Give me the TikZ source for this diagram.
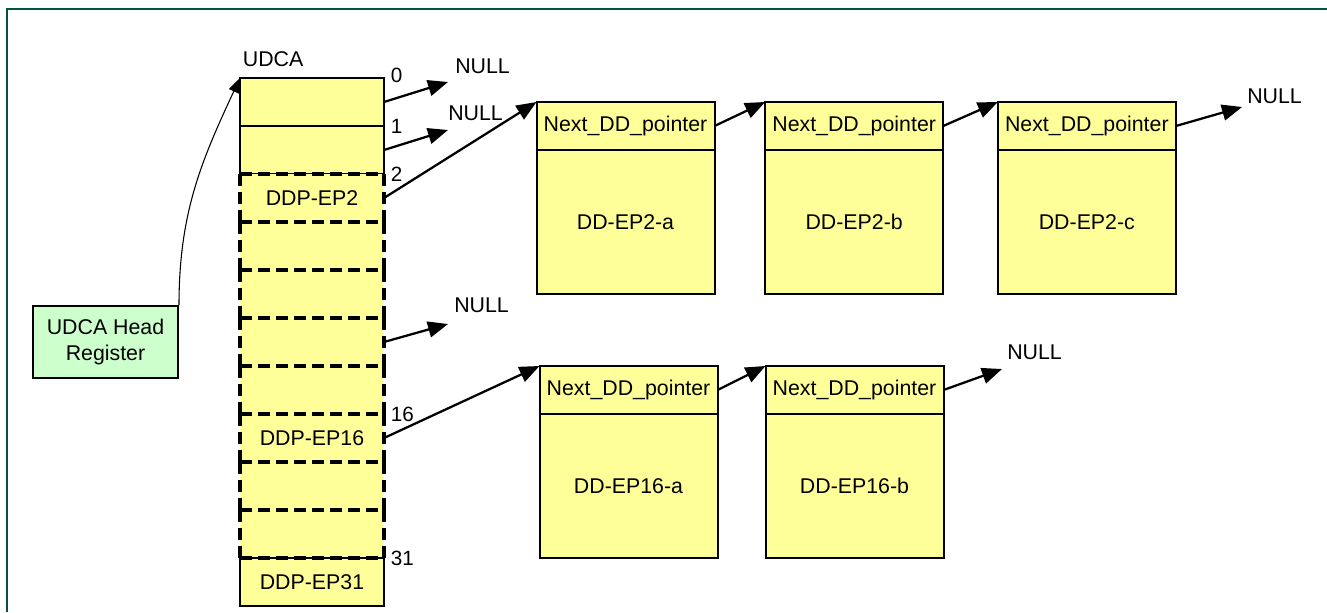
\documentclass[tikz,border=0pt]{standalone}
\usepackage{fontspec}
\setmainfont{Liberation Sans}
\usepackage{xcolor}
\usepackage{tikz}
\usetikzlibrary{arrows.meta, positioning}
\definecolor{slotyellow}{RGB}{255,255,153}
\definecolor{headgreen}{RGB}{204,255,204}
\definecolor{framegreen}{RGB}{0,84,64}

\begin{document}
\begin{tikzpicture}[
    x=0.75pt, y=-0.75pt,
    every node/.style={font=\fontsize{16}{19}\selectfont},
    slot/.style={fill=slotyellow, minimum width=108pt, minimum height=36pt, inner sep=0pt, outer sep=0pt},
    solidslot/.style={slot, draw, line width=1.5pt},
    dline/.style={line width=2.8pt, dash pattern=on 9pt off 4.5pt},
    ddhead/.style={draw, fill=slotyellow, line width=1.5pt, minimum width=133.5pt, minimum height=36pt, inner sep=0pt, outer sep=0pt},
    ddbody/.style={ddhead, minimum height=108pt},
    headreg/.style={draw, fill=headgreen, line width=1.5pt, minimum width=108.75pt, minimum height=54pt, align=center, inner sep=0pt},
    idx/.style={inner sep=0pt, font=\fontsize{15.5}{18}\selectfont},
    nulltxt/.style={anchor=base west, inner sep=0pt},
    ptr/.style={-{Triangle[length=15pt, width=12pt]}, line width=1.7pt}
]
    \useasboundingbox (0,0) rectangle (1327,612);

    % Frame
    \draw[framegreen, line width=1.5pt] (6.5,612) -- (6.5,9) -- (1327,9);

    % UDCA slots
    \foreach \i/\st/\txt in {0/solidslot/{},1/solidslot/{},2/slot/DDP-EP2,3/slot/{},4/slot/{},5/slot/{},6/slot/{},7/slot/DDP-EP16,8/slot/{},9/slot/{},10/solidslot/DDP-EP31}
        \node[\st] (c\i) at (312,{102+48*\i}) {\txt};

    % Dashed slots
    \foreach \i in {2,...,9} {
        \draw[dline] (c\i.north west) -- (c\i.north east);
        \draw[dline] (c\i.north west) -- (c\i.south west);
        \draw[dline] (c\i.north east) -- (c\i.south east);
    }
    \draw[dline] (c9.south west) -- (c9.south east);

    % Slot numbers
    \node[idx, above right=-4pt and 5pt of c0.north east] (n0) {0};
    \foreach \i/\n in {1/1,2/2,7/16,10/31}
        \node[idx, right=5pt of c\i.north east] (n\n) {\n};
    \node[inner sep=0pt, above right=8pt and 2pt of c0.north west] (udca) {UDCA};

    % Head register
    \node[headreg] (head) at (105.5,342) {UDCA Head\\Register};
    \draw[-{Triangle[length=11pt, width=8pt]}, line width=0.8pt] (head.north east) to[out=90, in=245] (c0.north west);

    % EP2 descriptors
    \node[ddhead] (h2a) at (625.5,126) {Next\_DD\_pointer};
    \node[ddbody, below=0pt of h2a] (b2a) {DD-EP2-a};
    \node[ddhead, right=38pt of h2a] (h2b) {Next\_DD\_pointer};
    \node[ddbody, below=0pt of h2b] (b2b) {DD-EP2-b};
    \node[ddhead, right=41pt of h2b] (h2c) {Next\_DD\_pointer};
    \node[ddbody, below=0pt of h2c] (b2c) {DD-EP2-c};

    % EP16 descriptors
    \node[ddhead] (h16a) at (628.5,390) {Next\_DD\_pointer};
    \node[ddbody, below=0pt of h16a] (b16a) {DD-EP16-a};
    \node[ddhead, right=36pt of h16a] (h16b) {Next\_DD\_pointer};
    \node[ddbody, below=0pt of h16b] (b16b) {DD-EP16-b};

    % NULL ends
    \coordinate (t0) at (448,82);
    \coordinate (t1) at (448,130);
    \coordinate (t5) at (448,324);
    \coordinate (t2c) at (1242,107);
    \coordinate (t16b) at (1002,369);
    \node[nulltxt] (null0) at (455,73) {NULL};
    \node[nulltxt] (null1) at (448,120) {NULL};
    \node[nulltxt] (null5) at (454,312) {NULL};
    \node[nulltxt] (null2c) at (1247,103) {NULL};
    \node[nulltxt] (null16b) at (1007,359) {NULL};

    % Pointers
    \draw[ptr] (c0.east) -- (t0);
    \draw[ptr] (c1.east) -- (t1);
    \draw[ptr] (c5.east) -- (t5);
    \draw[ptr] (c2.east) -- (h2a.north west);
    \draw[ptr] (h2a.east) -- (h2b.north west);
    \draw[ptr] (h2b.east) -- (h2c.north west);
    \draw[ptr] (h2c.east) -- (t2c);
    \draw[ptr] (c7.east) -- (h16a.north west);
    \draw[ptr] (h16a.east) -- (h16b.north west);
    \draw[ptr] (h16b.east) -- (t16b);
\end{tikzpicture}
\end{document}
